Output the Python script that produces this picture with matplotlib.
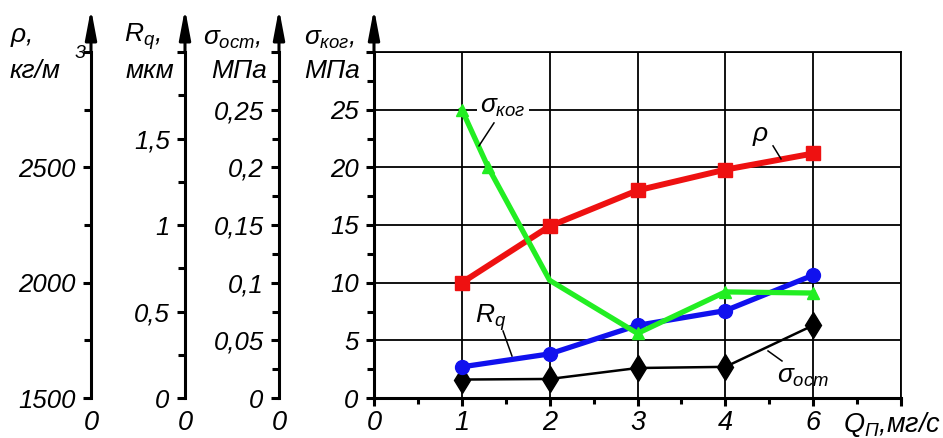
import matplotlib
matplotlib.use('Agg')
import matplotlib.pyplot as plt
from matplotlib.ticker import FixedLocator

# --- fonts: italic sans everywhere, math in the same font ---
plt.rcParams['font.family'] = ['Liberation Sans', 'DejaVu Sans']
plt.rcParams['font.style'] = 'italic'
plt.rcParams['mathtext.fontset'] = 'custom'
plt.rcParams['mathtext.rm'] = 'Liberation Sans:italic'
plt.rcParams['mathtext.it'] = 'Liberation Sans:italic'

# --- data ---
x_pos = [1, 2, 3, 4, 5]                     # Q = 1, 2, 3, 4, 6 mg/s, drawn evenly spaced
x_ticks = [0, 1, 2, 3, 4, 5, 6]
x_labels = ['0', '1', '2', '3', '4', '6', '']

rho = [2000, 2245, 2400, 2490, 2560]        # kg/m^3
rq = [0.18, 0.255, 0.42, 0.505, 0.71]       # mkm
sigma_ost = [0.016, 0.0165, 0.026, 0.027, 0.063]  # MPa
kog_x = [1, 1.3, 2, 3, 4, 5]
sigma_kog = [25, 20, 10.2, 5.6, 9.2, 9.1]   # MPa

rho_ticks = [1500, 2000, 2500, 3000]
rho_labels = ['1500', '2000', '2500', '']
rho_minor = [1750, 2250, 2750]
rq_ticks = [0, 0.5, 1, 1.5, 2]
rq_labels = ['0', '0,5', '1', '1,5', '']
rq_minor = [0.25, 0.75, 1.25, 1.75]
ost_ticks = [0, 0.05, 0.1, 0.15, 0.2, 0.25, 0.3]
ost_labels = ['0', '0,05', '0,1', '0,15', '0,2', '0,25', '']
ost_minor = [0.025, 0.075, 0.125, 0.175, 0.225, 0.275]
kog_ticks = [0, 5, 10, 15, 20, 25, 30]
kog_labels = ['0', '5', '10', '15', '20', '25', '']
kog_minor = [2.5, 7.5, 12.5, 17.5, 22.5, 27.5]

# --- layout ---
W, H = 943, 438
fig = plt.figure(figsize=(W / 100, H / 100), dpi=100)
ax = fig.add_axes([374 / W, 40 / H, 527 / W, 346 / H])

TICK_FS = 18.5
SPINE_LW = 2.2
ARROW_TOP = 1.125


def style_left_axis(a, ticks, labels, minor, lim):
    a.set_ylim(*lim)
    a.yaxis.set_major_locator(FixedLocator(ticks))
    a.set_yticklabels(labels)
    a.yaxis.set_minor_locator(FixedLocator(minor))
    a.tick_params(axis='y', which='major', direction='out', length=6, width=SPINE_LW,
                  labelsize=TICK_FS, pad=5, left=True, right=False,
                  labelleft=True, labelright=False)
    a.tick_params(axis='y', which='minor', direction='out', length=5, width=SPINE_LW,
                  left=True, right=False)


def add_arrow(xfrac):
    ax.annotate('', xy=(xfrac, ARROW_TOP), xytext=(xfrac, 1.0), xycoords='axes fraction',
                arrowprops=dict(arrowstyle='-|>,head_length=0.9,head_width=0.17',
                                mutation_scale=20, lw=SPINE_LW, color='k',
                                shrinkA=0, shrinkB=0))


# main axis (sigma_kog scale, grid, frame)
ax.set_xlim(0, 6)
style_left_axis(ax, kog_ticks, kog_labels, kog_minor, (0, 30))
ax.set_xticks(x_ticks)
ax.set_xticklabels(x_labels)
ax.xaxis.set_minor_locator(FixedLocator([0.5, 1.5, 2.5, 3.5, 4.5, 5.5]))
ax.tick_params(axis='x', which='major', direction='out', length=6, width=SPINE_LW,
               labelsize=19.5, pad=3)
ax.tick_params(axis='x', which='minor', direction='out', length=4, width=SPINE_LW)
ax.grid(True, which='major', color='k', lw=1.3)
ax.set_axisbelow(True)
ax.spines['left'].set_linewidth(SPINE_LW)
ax.spines['bottom'].set_linewidth(SPINE_LW)
ax.spines['top'].set_linewidth(1.3)
ax.spines['right'].set_linewidth(1.3)
add_arrow(0.0)

# extra scales on the left
offsets = {'rho': (91 - 374) / 527, 'rq': (185 - 374) / 527, 'ost': (279 - 374) / 527}


def make_twin(off):
    t = ax.twinx()
    for s in ['top', 'right', 'bottom']:
        t.spines[s].set_visible(False)
    t.spines['left'].set_visible(True)
    t.spines['left'].set_position(('axes', off))
    t.spines['left'].set_linewidth(SPINE_LW)
    t.yaxis.set_label_position('left')
    add_arrow(off)
    return t


ax_ost = make_twin(offsets['ost'])
style_left_axis(ax_ost, ost_ticks, ost_labels, ost_minor, (0, 0.3))
ax_rho = make_twin(offsets['rho'])
style_left_axis(ax_rho, rho_ticks, rho_labels, rho_minor, (1500, 3000))
ax_rq = make_twin(offsets['rq'])
style_left_axis(ax_rq, rq_ticks, rq_labels, rq_minor, (0, 2))

# top layer for sigma_kog and the annotations (same scale as main)
ax_k = ax.twinx()
ax_k.set_ylim(0, 30)
ax_k.axis('off')

ax_ost.plot(x_pos, sigma_ost, color='k', lw=1.8, marker='d', ms=13, clip_on=False)
ax_rho.plot(x_pos, rho, color='#ee1111', lw=4.3, marker='s', ms=10, clip_on=False)
ax_rq.plot(x_pos, rq, color='#1111ee', lw=3.8, marker='o', ms=10, clip_on=False)
ax_k.plot(kog_x, sigma_kog, color='#22ee22', lw=3.8, marker='^', ms=9,
          markevery=[0, 1, 3, 4, 5], clip_on=False)

# curve labels with leader lines
LAB_FS = 19
ax_k.text(1.47, 25.2, r'$σ_{ког}$', fontsize=LAB_FS, ha='center', va='center',
          bbox=dict(facecolor='white', edgecolor='none', pad=2))
ax_k.plot([1.366, 1.195], [23.85, 21.86], color='k', lw=1.1)
ax_k.text(4.395, 22.7, r'$\rho$', fontsize=LAB_FS, ha='center', va='center')
ax_k.plot([4.543, 4.634], [21.86, 20.73], color='k', lw=1.1)
ax_k.text(1.33, 7.0, r'$R_q$', fontsize=LAB_FS, ha='center', va='center')
ax_k.plot([1.469, 1.571], [5.81, 3.64], color='k', lw=1.1)
ax_k.text(4.885, 1.8, r'$σ_{ост}$', fontsize=LAB_FS, ha='center', va='center')
ax_k.plot([4.486, 4.645], [4.08, 3.21], color='k', lw=1.1)

# x axis title and the zeros under the extra scales
ax.text(5.34, -0.035, r'$Q_{П}$,мг/с', fontsize=19.5, ha='left', va='top',
        transform=ax.get_xaxis_transform())
for off in offsets.values():
    ax.text(off, -0.035, '0', fontsize=19.5, ha='center', va='top', transform=ax.transAxes)


# axis titles (pixel positions of the reference)
def ftext(px, py, s, fs=LAB_FS):
    fig.text(px / W, 1 - py / H, s, fontsize=fs, va='center', ha='left')


ftext(10, 37, r'$\rho$,')
ftext(10, 71, 'кг/м')
ftext(75, 53, '3', fs=14)
ftext(124, 37, r'$R_q$,')
ftext(126, 71, 'мкм')
ftext(203, 39, r'$σ_{ост}$,')
ftext(211, 71, 'МПа')
ftext(304, 39, r'$σ_{ког}$,')
ftext(304, 71, 'МПа')

fig.savefig('out.png', dpi=100)
